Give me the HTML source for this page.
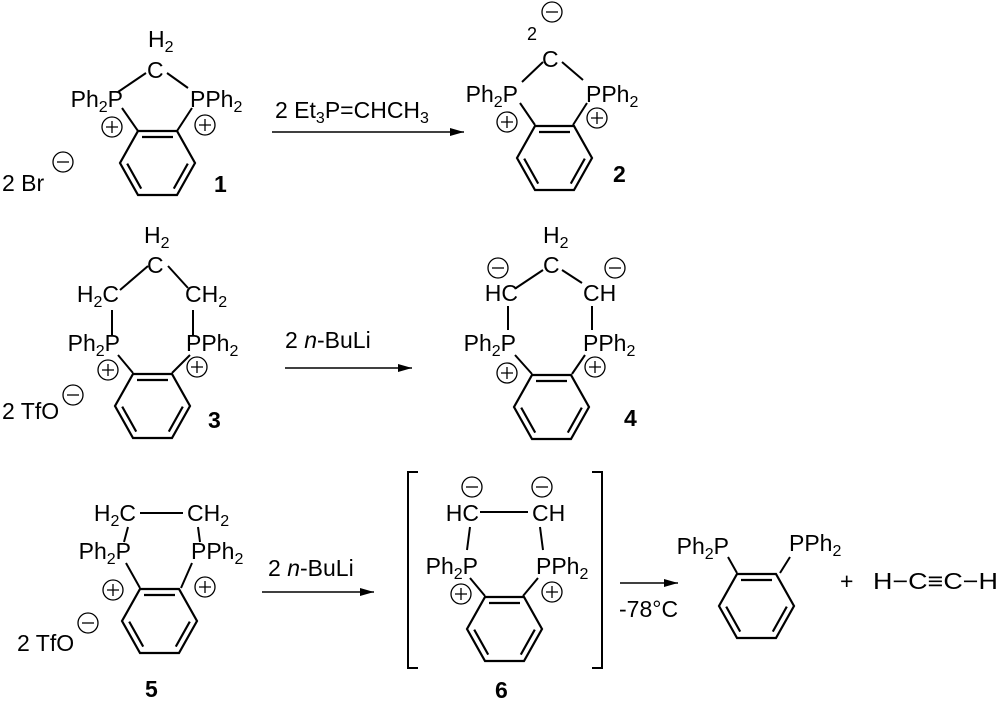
<!DOCTYPE html>
<html><head><meta charset="utf-8"><style>
html,body{margin:0;padding:0;background:#fff;}
svg{display:block;}
</style></head><body>
<svg width="1000" height="707" viewBox="0 0 1000 707" xmlns="http://www.w3.org/2000/svg" font-family="Liberation Sans, Arial, sans-serif" font-size="23" fill="#000">
<defs>
<g id="bz" fill="none" stroke="#000" stroke-width="2.2">
<path d="M0,0 L39,0 L57,32 L39,64 L0,64 L-18,32 Z"/>
<path d="M4,6 L35,6 M49.8,32.6 L35.8,57.6 M3.2,57.6 L-10.8,32.6"/>
</g>
<g id="pl"><circle r="10" fill="none" stroke="#000" stroke-width="1.3"/><path d="M-6,0H6M0,-6V6" stroke="#000" stroke-width="1.3"/></g>
<g id="mn"><circle r="10" fill="none" stroke="#000" stroke-width="1.3"/><path d="M-6,0H6" stroke="#000" stroke-width="1.3"/></g>
<marker id="ah" markerWidth="14" markerHeight="8" refX="14" refY="4" orient="auto" markerUnits="userSpaceOnUse"><path d="M0,0 L14,4 L0,8 Z" fill="#000"/></marker>
</defs>
<g stroke="#000" stroke-width="2" fill="none">
<path d="M122,108L138,131M192,108L177,131M118,92L146,73M167,73L188,88"/>
<path d="M520,103L535,125M587,103L573,125M522,82L543,62M562,62L583,80"/>
<path d="M118,355L133,373M190,355L172,373M120,290L148,266M168,266L188,288M112,310V336M193,310V336"/>
<path d="M515,355L532,374M585,355L572,374M516,288L543,270M562,270L582,283M508,306V330M592,306V330"/>
<path d="M126,563L140,588M192,563L181,588M140,513H183M128,527L124,542M198,527L200,542"/>
<path d="M470,578L485,596M538,578L523,596M480,512H528M470,527L467,550M540,527L543,550"/>
<path d="M418,472H408V668H418M592,472H602V668H592"/>
<path d="M728,557L737,573M790,557L780,573"/>
</g>
<g stroke="#000" stroke-width="1.5">
<line x1="272" y1="132" x2="464" y2="132" marker-end="url(#ah)"/>
<line x1="285" y1="368" x2="412" y2="368" marker-end="url(#ah)"/>
<line x1="262" y1="592" x2="374" y2="592" marker-end="url(#ah)"/>
<line x1="620" y1="583" x2="678" y2="583" marker-end="url(#ah)"/>
</g>
<use href="#bz" x="138" y="131"/>
<use href="#bz" x="535" y="126"/>
<use href="#bz" x="133" y="374"/>
<use href="#bz" x="532" y="375"/>
<use href="#bz" x="140" y="589"/>
<use href="#bz" x="485" y="597"/>
<use href="#bz" x="737" y="574"/>

<use href="#pl" x="112" y="127"/><use href="#pl" x="205" y="125"/>
<use href="#pl" x="507" y="122"/><use href="#pl" x="597" y="118"/>
<use href="#pl" x="108" y="370"/><use href="#pl" x="197" y="367"/>
<use href="#pl" x="507" y="373"/><use href="#pl" x="595" y="367"/>
<use href="#pl" x="113" y="590"/><use href="#pl" x="205" y="587"/>
<use href="#pl" x="461" y="594"/><use href="#pl" x="552" y="592"/>
<use href="#mn" x="63" y="162"/>
<use href="#mn" x="552" y="12"/>
<use href="#mn" x="73" y="395"/>
<use href="#mn" x="498" y="268"/><use href="#mn" x="615" y="268"/>
<use href="#mn" x="88" y="623"/>
<use href="#mn" x="472" y="487"/><use href="#mn" x="542" y="487"/>

<!-- 1 -->
<text x="148" y="47">H<tspan font-size="16" dy="5">2</tspan></text>
<text x="147" y="78">C</text>
<text x="123" y="107" text-anchor="end">Ph<tspan font-size="16" dy="5">2</tspan><tspan dy="-5">P</tspan></text>
<text x="190" y="107">PPh<tspan font-size="16" dy="5">2</tspan></text>
<text x="2" y="191">2 Br</text>
<text x="214" y="192" font-weight="bold">1</text>
<text x="275" y="118">2 Et<tspan font-size="16" dy="5">3</tspan><tspan dy="-5">P=CHCH</tspan><tspan font-size="16" dy="5">3</tspan></text>
<!-- 2 -->
<text x="527" y="40" font-size="18">2</text>
<text x="542" y="67">C</text>
<text x="518" y="102" text-anchor="end">Ph<tspan font-size="16" dy="5">2</tspan><tspan dy="-5">P</tspan></text>
<text x="586" y="102">PPh<tspan font-size="16" dy="5">2</tspan></text>
<text x="613" y="182" font-weight="bold">2</text>
<!-- 3 -->
<text x="144" y="243">H<tspan font-size="16" dy="5">2</tspan></text>
<text x="147" y="273">C</text>
<text x="119" y="302" text-anchor="end">H<tspan font-size="16" dy="5">2</tspan><tspan dy="-5">C</tspan></text>
<text x="185" y="302">CH<tspan font-size="16" dy="5">2</tspan></text>
<text x="120" y="351" text-anchor="end">Ph<tspan font-size="16" dy="5">2</tspan><tspan dy="-5">P</tspan></text>
<text x="186" y="351">PPh<tspan font-size="16" dy="5">2</tspan></text>
<text x="2" y="419">2 TfO</text>
<text x="208" y="428" font-weight="bold">3</text>
<text x="285" y="348">2 <tspan font-style="italic">n</tspan>-BuLi</text>
<!-- 4 -->
<text x="543" y="243">H<tspan font-size="16" dy="5">2</tspan></text>
<text x="543" y="273">C</text>
<text x="518" y="301" text-anchor="end">HC</text>
<text x="583" y="301">CH</text>
<text x="516" y="351" text-anchor="end">Ph<tspan font-size="16" dy="5">2</tspan><tspan dy="-5">P</tspan></text>
<text x="583" y="351">PPh<tspan font-size="16" dy="5">2</tspan></text>
<text x="624" y="426" font-weight="bold">4</text>
<!-- 5 -->
<text x="136" y="521" text-anchor="end">H<tspan font-size="16" dy="5">2</tspan><tspan dy="-5">C</tspan></text>
<text x="187" y="521">CH<tspan font-size="16" dy="5">2</tspan></text>
<text x="131" y="559" text-anchor="end">Ph<tspan font-size="16" dy="5">2</tspan><tspan dy="-5">P</tspan></text>
<text x="191" y="559">PPh<tspan font-size="16" dy="5">2</tspan></text>
<text x="17" y="651">2 TfO</text>
<text x="145" y="697" font-weight="bold">5</text>
<text x="268" y="576">2 <tspan font-style="italic">n</tspan>-BuLi</text>
<!-- 6 -->
<text x="479" y="521" text-anchor="end">HC</text>
<text x="532" y="521">CH</text>
<text x="478" y="574" text-anchor="end">Ph<tspan font-size="16" dy="5">2</tspan><tspan dy="-5">P</tspan></text>
<text x="536" y="574">PPh<tspan font-size="16" dy="5">2</tspan></text>
<text x="495" y="698" font-weight="bold">6</text>
<text x="619" y="617">-78°C</text>
<!-- 7 -->
<text x="729" y="554" text-anchor="end">Ph<tspan font-size="16" dy="5">2</tspan><tspan dy="-5">P</tspan></text>
<text x="789" y="551">PPh<tspan font-size="16" dy="5">2</tspan></text>
<text x="840" y="589">+</text>
<text x="873" y="589" textLength="125" lengthAdjust="spacingAndGlyphs">H−C≡C−H</text>
</svg>
</body></html>
